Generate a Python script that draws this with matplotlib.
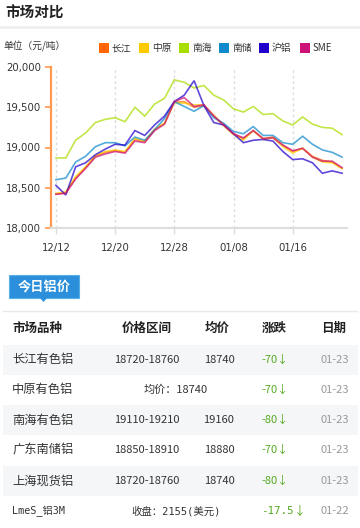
import matplotlib
matplotlib.use("Agg")
import matplotlib.pyplot as plt
from matplotlib.patches import Rectangle, Polygon
from matplotlib.lines import Line2D

plt.rcParams['font.family'] = ['Noto Sans CJK SC', 'DejaVu Sans']

# ---------------- data ----------------
series_names = ["长江", "中原", "南海", "南储", "沪铝", "SME"]
series_colors = ["#ff6600", "#ffcc00", "#aadd00", "#1188cc", "#2200cc", "#cc1177"]

changjiang = [18420, 18440, 18620, 18750, 18890, 18940, 18960, 18940, 19100, 19070,
              19220, 19300, 19560, 19570, 19500, 19520, 19400, 19280, 19170, 19110,
              19210, 19110, 19130, 19030, 18950, 18990, 18890, 18840, 18820, 18740]
zhongyuan = [18430, 18450, 18640, 18760, 18900, 18950, 18970, 18950, 19110, 19080,
             19230, 19300, 19560, 19550, 19530, 19530, 19390, 19270, 19160, 19090,
             19210, 19100, 19120, 19010, 18930, 18990, 18880, 18820, 18810, 18740]
nanhai = [18870, 18870, 19090, 19180, 19310, 19350, 19370, 19320, 19500, 19390,
          19540, 19610, 19840, 19810, 19740, 19770, 19650, 19590, 19480, 19440,
          19510, 19410, 19420, 19330, 19280, 19380, 19290, 19250, 19240, 19160]
nanchu = [18600, 18620, 18820, 18890, 19010, 19060, 19060, 19020, 19130, 19090,
          19220, 19360, 19570, 19510, 19450, 19520, 19370, 19300, 19200, 19170,
          19260, 19150, 19150, 19060, 19040, 19140, 19040, 18970, 18940, 18880]
hulv = [18530, 18410, 18760, 18810, 18910, 18980, 19040, 19030, 19210, 19150,
        19280, 19390, 19570, 19650, 19830, 19520, 19310, 19280, 19170, 19060,
        19090, 19100, 19080, 18950, 18850, 18860, 18810, 18680, 18710, 18680]
sme = [18420, 18430, 18610, 18740, 18880, 18920, 18950, 18930, 19080, 19060,
       19210, 19290, 19570, 19620, 19510, 19530, 19390, 19280, 19170, 19120,
       19210, 19110, 19120, 19030, 18960, 18990, 18880, 18830, 18830, 18750]
series_values = [changjiang, zhongyuan, nanhai, nanchu, hulv, sme]

x_tick_index = [0, 6, 12, 18, 24]
x_tick_labels = ["12/12", "12/20", "12/28", "01/08", "01/16"]
y_ticks = [18000, 18500, 19000, 19500, 20000]

table_header = ["市场品种", "价格区间", "均价", "涨跌", "日期"]
markets = ["长江有色铝", "中原有色铝", "南海有色铝", "广东南储铝", "上海现货铝", "LmeS_铝3M"]
price_ranges = ["18720-18760", "均价：18740", "19110-19210", "18850-18910", "18720-18760", "收盘：2155(美元)"]
avg_prices = ["18740", "", "19160", "18880", "18740", ""]
changes = ["-70", "-70", "-80", "-70", "-80", "-17.5"]
dates = ["01-23", "01-23", "01-23", "01-23", "01-23", "01-22"]

# ---------------- figure ----------------
W, H = 360, 528
fig = plt.figure(figsize=(W / 100, H / 100), dpi=100)
fig.patch.set_facecolor("white")

MONO = ["DejaVu Sans Mono", "Noto Sans CJK SC"]


def fx(x):
    return x / W


def fy(y):
    return 1 - y / H


# title
fig.text(fx(5), fy(12.5), "市场对比", fontsize=10.5, fontweight="bold", color="#222222",
         ha="left", va="center")
fig.add_artist(Line2D([0, 1], [fy(27), fy(27)], color="#efefef", lw=2))

# unit + legend
fig.text(fx(3), fy(46.5), "单位（元/吨）", fontsize=7, color="#333333", ha="left", va="center")
leg_x = [99, 139, 179, 219, 259, 300]
for name, col, lx in zip(series_names, series_colors, leg_x):
    fig.add_artist(Rectangle((fx(lx), fy(53)), 10 / W, 10 / H, facecolor=col,
                             edgecolor="none", transform=fig.transFigure))
    fig.text(fx(lx + 13), fy(48), name, fontsize=7, color="#333333", ha="left", va="center")

# chart
ax = fig.add_axes([fx(51), fy(228), (347 - 51) / W, (228 - 67) / H])
xs = list(range(len(changjiang)))
for vals, col in zip(series_values, series_colors):
    ax.plot(xs, vals, color=col, lw=1.2, alpha=0.72, solid_joinstyle="miter")
ax.set_xlim(-0.5, 29.5)
ax.set_ylim(18000, 20000)
ax.set_yticks(y_ticks)
ax.set_yticklabels([f"{v:,}" for v in y_ticks], fontsize=7.3, color="#333333",
                   family="DejaVu Sans")
ax.set_xticks(x_tick_index)
ax.set_xticklabels(x_tick_labels, fontsize=7.3, color="#333333", family="DejaVu Sans")
ax.tick_params(axis="y", colors="#ff9a50", length=4, width=1.2, pad=3, labelcolor="#333333")
ax.tick_params(axis="x", colors="#dddddd", length=4, width=1, pad=7, labelcolor="#333333")
ax.grid(axis="x", color="#dddddd", lw=1, linestyle=(0, (2, 2)))
for s in ["top", "right"]:
    ax.spines[s].set_visible(False)
ax.spines["left"].set_color("#ff9a50")
ax.spines["left"].set_linewidth(1.6)
ax.spines["bottom"].set_color("#dddddd")
ax.spines["bottom"].set_linewidth(1.5)

# tab "今日铝价"
fig.add_artist(Rectangle((fx(9), fy(298)), 70 / W, 23 / H, facecolor="#2b8fdb",
                         edgecolor="#5aaee8", lw=0.8, transform=fig.transFigure))
fig.add_artist(Polygon([[fx(40), fy(298)], [fx(47), fy(298)], [fx(43.5), fy(302)]],
                       closed=True, facecolor="#2b8fdb", edgecolor="none",
                       transform=fig.transFigure))
fig.text(fx(44), fy(286.5), "今日铝价", fontsize=9.5, fontweight="bold", color="white",
         ha="center", va="center")
fig.add_artist(Line2D([fx(3), fx(357)], [fy(311), fy(311)], color="#e6e9ee", lw=1))

# table header
head_y = 328
fig.text(fx(12), fy(head_y), table_header[0], fontsize=9, fontweight="bold", color="#222222",
         ha="left", va="center")
for txt, cx in zip(table_header[1:], [147, 217, 274, 334]):
    fig.text(fx(cx), fy(head_y), txt, fontsize=9, fontweight="bold", color="#222222",
             ha="center", va="center")

# table rows
row_y = [360, 390, 420, 450, 481, 511]
for i, y in enumerate(row_y):
    if i % 2 == 0:
        fig.add_artist(Rectangle((fx(3), fy(y + 15)), 355 / W, 30 / H, facecolor="#f5f6f8",
                                 edgecolor="none", transform=fig.transFigure, zorder=0))
    name = markets[i]
    is_lme = name.startswith("Lme")
    if is_lme:
        fig.text(fx(12), fy(y), name, fontsize=7.3, color="#333333", ha="left", va="center",
                 family=MONO)
    else:
        fig.text(fx(12), fy(y), name, fontsize=8.8, color="#333333", ha="left", va="center")
    if avg_prices[i]:
        fig.text(fx(147), fy(y), price_ranges[i], fontsize=8, color="#333333",
                 ha="center", va="center")
        fig.text(fx(219), fy(y), avg_prices[i], fontsize=8, color="#333333",
                 ha="center", va="center")
    elif is_lme:
        fig.text(fx(176), fy(y), price_ranges[i], fontsize=7.5, color="#333333",
                 ha="center", va="center", family=MONO)
    else:
        fig.text(fx(176), fy(y), price_ranges[i], fontsize=8, color="#333333",
                 ha="center", va="center")
    if is_lme:
        fig.text(fx(261), fy(y), changes[i], fontsize=7.8, color="#55aa22", ha="left",
                 va="center", family=MONO)
        fig.text(fx(294), fy(y), "↓", fontsize=8.5, color="#55aa22", ha="left",
                 va="center")
    else:
        fig.text(fx(261), fy(y), changes[i] + "↓", fontsize=8, color="#55aa22", ha="left",
                 va="center")
    fig.text(fx(335), fy(y), dates[i], fontsize=8, color="#999999", ha="center", va="center")

fig.savefig("out.png", dpi=100)
